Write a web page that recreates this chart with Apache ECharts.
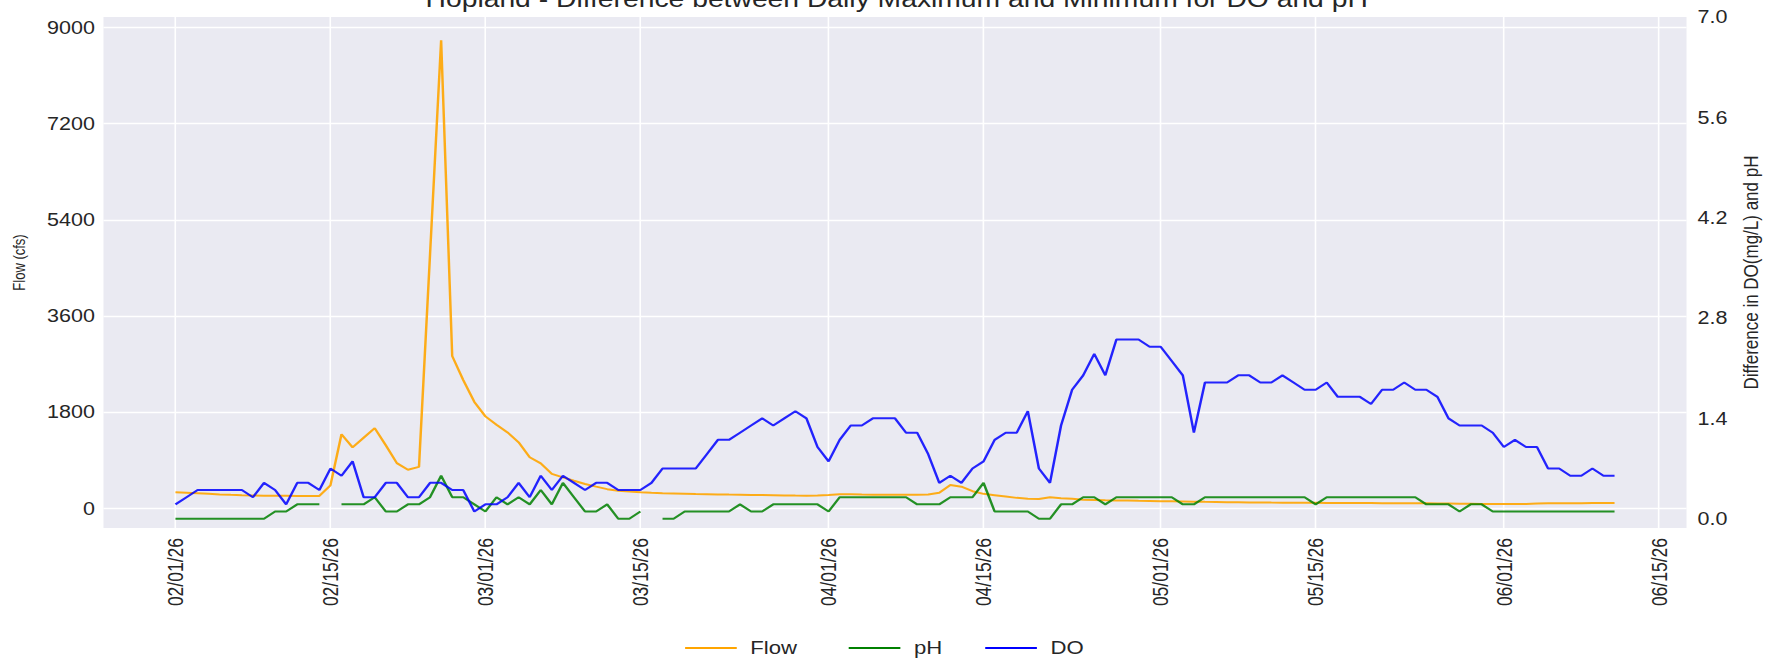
<!DOCTYPE html>
<html>
<head>
<meta charset="utf-8">
<script src="https://cdn.jsdelivr.net/npm/echarts@6/dist/echarts.min.js"></script>
<style>
html,body{margin:0;padding:0;background:#fff;overflow:hidden;}
#wrap{width:1791px;height:661px;overflow:hidden;position:relative;}
#chart{position:absolute;left:0;top:0;height:661px;transform-origin:0 0;}
</style>
</head>
<body>
<div id="wrap"><div id="chart"></div></div>
<script>
// ---- data ----
const startDate = '02/01/26';
const tickLabels = ['02/01/26','02/15/26','03/01/26','03/15/26','04/01/26','04/15/26','05/01/26','05/15/26','06/01/26','06/15/26'];
const flowTicks = [0, 1800, 3600, 5400, 7200, 9000];
const diffTicks = [0, 1.4, 2.8, 4.2, 5.6, 7.0];
const seriesNames = ['Flow', 'pH', 'DO'];

const flow = [300,290,280,270,260,252,245,240,236,234,
 233,232,232,232,430,1385,1140,1320,1500,1180,
 845,722,775,4760,8760,2850,2400,1990,1720,1565,
 1420,1235,955,840,645,578,515,455,405,358,
 330,312,300,290,283,278,273,268,264,260,
 256,253,250,247,244,241,238,236,240,250,
 262,262,258,255,254,254,253,253,258,290,
 435,405,320,270,245,220,195,178,172,205,
 190,178,160,155,150,147,144,140,137,133,
 130,127,124,120,117,114,112,110,108,106,
 105,104,103,102,101,100,99,98,97,96,
 95,94,93,92,90,88,86,84,82,81,
 80,79,80,88,92,94,95,96,97,98,
 99];

const ph = [0,0,0,0,0,0,0,0,0,0.1,
 0.1,0.2,0.2,0.2,null,0.2,0.2,0.2,0.3,0.1,
 0.1,0.2,0.2,0.3,0.6,0.3,0.3,0.2,0.1,0.3,
 0.2,0.3,0.2,0.4,0.2,0.5,0.3,0.1,0.1,0.2,
 0,0,0.1,null,0,0,0.1,0.1,0.1,0.1,
 0.1,0.2,0.1,0.1,0.2,0.2,0.2,0.2,0.2,0.1,
 0.3,0.3,0.3,0.3,0.3,0.3,0.3,0.2,0.2,0.2,
 0.3,0.3,0.3,0.5,0.1,0.1,0.1,0.1,0,0,
 0.2,0.2,0.3,0.3,0.2,0.3,0.3,0.3,0.3,0.3,
 0.3,0.2,0.2,0.3,0.3,0.3,0.3,0.3,0.3,0.3,
 0.3,0.3,0.3,0.2,0.3,0.3,0.3,0.3,0.3,0.3,
 0.3,0.3,0.3,0.2,0.2,0.2,0.1,0.2,0.2,0.1,
 0.1,0.1,0.1,0.1,0.1,0.1,0.1,0.1,0.1,0.1,
 0.1];

const doDiff = [0.2,0.3,0.4,0.4,0.4,0.4,0.4,0.3,0.5,0.4,
 0.2,0.5,0.5,0.4,0.7,0.6,0.8,0.3,0.3,0.5,
 0.5,0.3,0.3,0.5,0.5,0.4,0.4,0.1,0.2,0.2,
 0.3,0.5,0.3,0.6,0.4,0.6,0.5,0.4,0.5,0.5,
 0.4,0.4,0.4,0.5,0.7,0.7,0.7,0.7,0.9,1.1,
 1.1,1.2,1.3,1.4,1.3,1.4,1.5,1.4,1.0,0.8,
 1.1,1.3,1.3,1.4,1.4,1.4,1.2,1.2,0.9,0.5,
 0.6,0.5,0.7,0.8,1.1,1.2,1.2,1.5,0.7,0.5,
 1.3,1.8,2.0,2.3,2.0,2.5,2.5,2.5,2.4,2.4,
 2.2,2.0,1.2,1.9,1.9,1.9,2.0,2.0,1.9,1.9,
 2.0,1.9,1.8,1.8,1.9,1.7,1.7,1.7,1.6,1.8,
 1.8,1.9,1.8,1.8,1.7,1.4,1.3,1.3,1.3,1.2,
 1.0,1.1,1.0,1.0,0.7,0.7,0.6,0.6,0.7,0.6,
 0.6];

// ---- helpers ----
function parseMDY(s){ const p = s.split('/'); return Date.UTC(2000 + (+p[2]), (+p[0]) - 1, +p[1]); }
const DAY = 86400000;
const t0 = parseMDY(startDate);
const dayOf = s => Math.round((parseMDY(s) - t0) / DAY);
const tickDays = tickLabels.map(dayOf);
const labelByDay = {}; tickDays.forEach((d, i) => labelByDay[d] = tickLabels[i]);
const pairs = arr => arr.map((v, i) => [i, v]);

// ---- layout (reference is stretched horizontally) ----
const W = 1791, H = 661, SX = 1.23;
const CW = W / SX;
const el = document.getElementById('chart');
el.style.width = CW + 'px';
el.style.transform = 'scaleX(' + SX + ')';

const FONT = '"Liberation Sans", Arial, Helvetica, sans-serif';
const TXT = '#262626';
const chart = echarts.init(el, null, { renderer: 'svg', width: CW, height: H });

const plotLeft = 103.5 / SX, plotRight = (W - 1686.5) / SX;

function legendItem(name, left){
  return {
    data: [name], left: left, top: 634, itemWidth: 42, itemHeight: 14,
    icon: 'path://M0,6 L42,6 L42,8 L0,8 Z',
    textStyle: { fontFamily: FONT, fontSize: 18, color: TXT, padding: [0,0,0,6] },
    selectedMode: false
  };
}

chart.setOption({
  backgroundColor: '#ffffff',
  animation: false,
  textStyle: { fontFamily: FONT },
  graphic: [{
    type: 'text', x: 729, y: -1,
    style: { text: 'Hopland - Difference between Daily Maximum and Minimum for DO and pH',
      font: '23px ' + FONT, fill: TXT, align: 'center', verticalAlign: 'middle' }
  }],
  legend: [legendItem('Flow', 552), legendItem('pH', 685), legendItem('DO', 796)],
  grid: {
    left: plotLeft, right: plotRight, top: 17, bottom: H - 528,
    show: true, backgroundColor: '#EAEAF2', borderWidth: 0
  },
  xAxis: {
    type: 'value', min: -6.5, max: 136.5,
    axisLine: { show: false },
    axisTick: { show: false, customValues: tickDays },
    axisLabel: {
      customValues: tickDays, rotate: 90, margin: 10,
      fontSize: 17.5, color: TXT, fontFamily: FONT,
      formatter: v => labelByDay[Math.round(v)] || ''
    },
    splitLine: { show: true, lineStyle: { color: '#ffffff', width: 1.3 } }
  },
  yAxis: [{
    type: 'value', position: 'left', min: -369, max: 9195,
    name: 'Flow (cfs)', nameLocation: 'middle', nameRotate: 90, nameGap: 62,
    nameTextStyle: { fontFamily: FONT, fontSize: 13, color: TXT, padding: [0,0,0,20] },
    axisLine: { show: false },
    axisTick: { show: false, customValues: flowTicks },
    axisLabel: { customValues: flowTicks, margin: 7, fontSize: 17.5, color: TXT, fontFamily: FONT,
      formatter: v => String(Math.round(v)) },
    splitLine: { show: true, lineStyle: { color: '#ffffff', width: 1.3 } }
  }, {
    type: 'value', position: 'right', min: -0.13, max: 7.0,
    name: 'Difference in DO(mg/L) and pH', nameLocation: 'middle', nameRotate: 90, nameGap: 37,
    nameTextStyle: { fontFamily: FONT, fontSize: 17, color: TXT },
    axisLine: { show: false },
    axisTick: { show: false, customValues: diffTicks },
    axisLabel: { customValues: diffTicks, margin: 9, fontSize: 17.5, color: TXT, fontFamily: FONT,
      formatter: v => v.toFixed(1) },
    splitLine: { show: false }
  }],
  series: [{
    name: seriesNames[0], type: 'line', yAxisIndex: 0, data: pairs(flow),
    symbol: 'none', color: '#FFA500', lineStyle: { width: 2, color: '#FFA500', opacity: 0.9 }, z: 2
  }, {
    name: seriesNames[1], type: 'line', yAxisIndex: 1, data: pairs(ph), connectNulls: false,
    symbol: 'none', color: '#008000', lineStyle: { width: 2, color: '#008000', opacity: 0.85 }, z: 3
  }, {
    name: seriesNames[2], type: 'line', yAxisIndex: 1, data: pairs(doDiff),
    symbol: 'none', color: '#0000FF', lineStyle: { width: 2, color: '#0000FF', opacity: 0.85 }, z: 4
  }]
});
</script>
</body>
</html>
